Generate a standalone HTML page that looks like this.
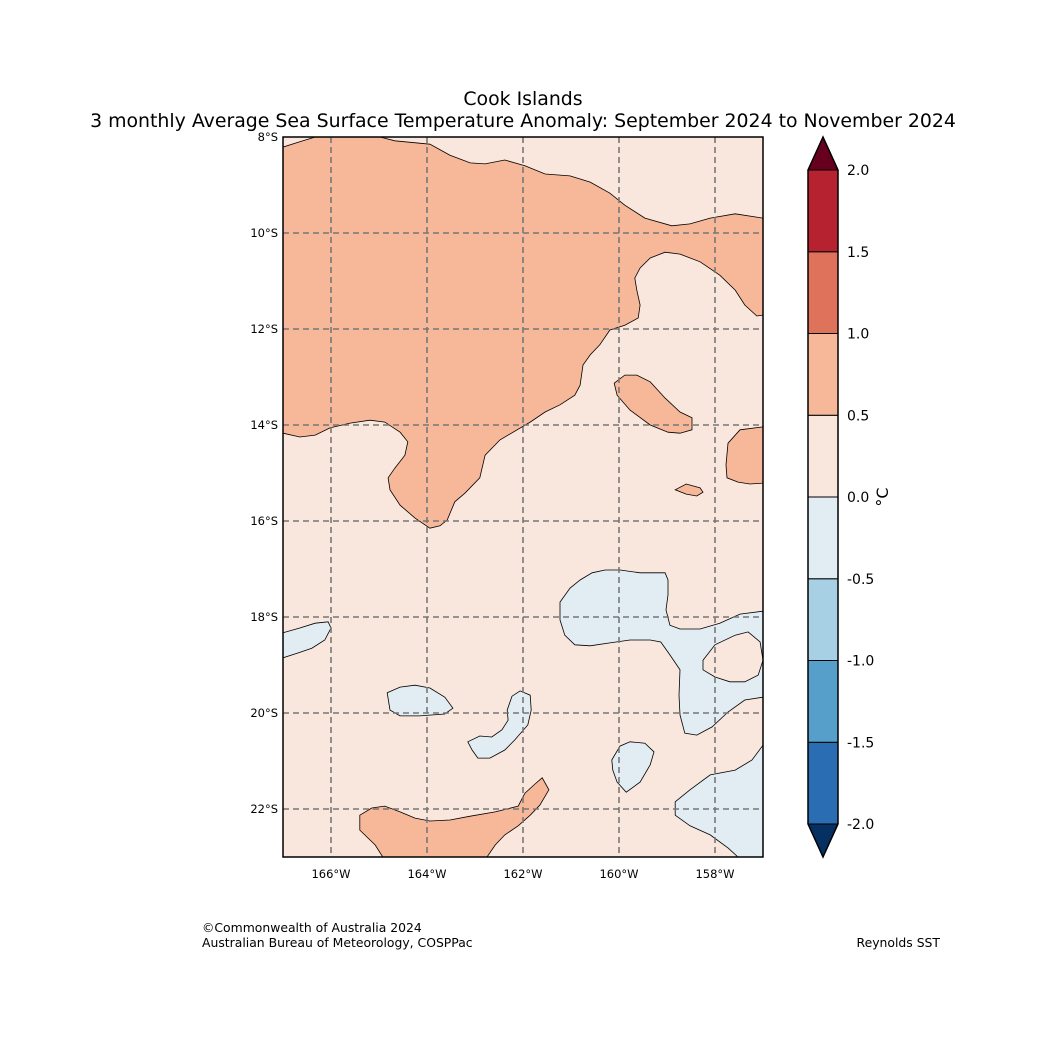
<!DOCTYPE html>
<html><head><meta charset="utf-8"><style>
html,body{margin:0;padding:0;background:#fff}
svg text{font-family:"DejaVu Sans","Liberation Sans",sans-serif}
</style></head><body>
<svg id="c" width="1046" height="1052" xmlns="http://www.w3.org/2000/svg">
<text x="523" y="105" text-anchor="middle" font-size="18.9">Cook Islands</text>
<text x="523" y="127" text-anchor="middle" font-size="18.9">3 monthly Average Sea Surface Temperature Anomaly: September 2024 to November 2024</text>
<defs><clipPath id="mapclip"><rect x="283" y="137" width="480" height="720"/></clipPath></defs>
<g id="map" clip-path="url(#mapclip)"></g>
<g id="grid"></g>
<rect x="283" y="137" width="480" height="720" fill="none" stroke="#000" stroke-width="1.5"/>
<g id="ticks"></g>
<g id="cbar"></g>
<text transform="translate(888,497) rotate(-90)" text-anchor="middle" font-size="16">°C</text>
<text x="202" y="932" font-size="12.4">©Commonwealth of Australia 2024</text>
<text x="202" y="947" font-size="12.4">Australian Bureau of Meteorology, COSPPac</text>
<text x="940" y="947" font-size="12.4" text-anchor="end">Reynolds SST</text>
</svg>
<script>
const lonMin=-167, lonMax=-157, latMax=-8, latMin=-23;
const lonTicks=[-166,-164,-162,-160,-158];
const latTicks=[-8,-10,-12,-14,-16,-18,-20,-22];
const cbLevels=[-2,-1.5,-1,-0.5,0,0.5,1,1.5,2];
const cbColors=["#2a6db2","#569fcb","#a7d0e4","#e1ecf3","#f9e6dc","#f7b799","#de725b","#b72230"];
const cbUnder="#053061", cbOver="#67001f";
const bgColor="#f9e6dc";
const orangeMain=[[-167,-8.21],[-166.65,-8.10],[-166.33,-8],[-164.98,-8],[-164.67,-8.08],[-163.94,-8.15],[-163.52,-8.38],[-163.10,-8.54],[-162.79,-8.56],[-162.38,-8.48],[-161.96,-8.60],[-161.54,-8.77],[-161.02,-8.81],[-160.60,-8.94],[-160.19,-9.17],[-159.88,-9.42],[-159.46,-9.69],[-158.90,-9.85],[-158.52,-9.81],[-158.10,-9.69],[-157.58,-9.60],[-157,-9.69],[-157,-11.71],[-157.13,-11.73],[-157.38,-11.50],[-157.58,-11.19],[-157.90,-10.88],[-158.31,-10.60],[-158.73,-10.44],[-159.04,-10.40],[-159.35,-10.52],[-159.56,-10.73],[-159.67,-10.94],[-159.63,-11.19],[-159.56,-11.50],[-159.60,-11.77],[-159.88,-11.92],[-160.19,-12.02],[-160.40,-12.33],[-160.60,-12.54],[-160.75,-12.75],[-160.81,-13.17],[-160.92,-13.38],[-161.23,-13.58],[-161.54,-13.73],[-161.85,-13.94],[-162.48,-14.31],[-162.79,-14.63],[-162.90,-15.10],[-163.21,-15.42],[-163.42,-15.60],[-163.58,-15.98],[-163.73,-16.10],[-163.94,-16.15],[-164.25,-15.94],[-164.56,-15.67],[-164.77,-15.35],[-164.81,-15.10],[-164.67,-14.90],[-164.46,-14.63],[-164.40,-14.35],[-164.56,-14.15],[-164.88,-13.94],[-165.19,-13.90],[-165.60,-13.96],[-166.02,-14.06],[-166.33,-14.21],[-166.65,-14.25],[-167,-14.17]];
const orangeIsland=[[-160.10,-13.13],[-159.88,-12.96],[-159.63,-12.96],[-159.35,-13.10],[-159.04,-13.44],[-158.73,-13.73],[-158.48,-13.85],[-158.48,-14.10],[-158.73,-14.17],[-158.98,-14.15],[-159.35,-14.0],[-159.77,-13.69],[-160.04,-13.38]];
const orangeRight=[[-157,-14.04],[-157.48,-14.10],[-157.73,-14.38],[-157.77,-14.83],[-157.75,-15.10],[-157.52,-15.19],[-157.27,-15.23],[-157,-15.21]];
const orangeSmall=[[-158.83,-15.35],[-158.60,-15.23],[-158.31,-15.31],[-158.25,-15.40],[-158.38,-15.48],[-158.60,-15.44]];
const orangeBottom=[[-165.40,-22.13],[-165.15,-21.98],[-164.88,-21.94],[-164.56,-22.06],[-164.25,-22.19],[-163.94,-22.25],[-163.52,-22.23],[-163.10,-22.15],[-162.58,-22.06],[-162.10,-21.94],[-161.96,-21.67],[-161.75,-21.48],[-161.60,-21.35],[-161.46,-21.60],[-161.65,-21.92],[-161.85,-22.13],[-162.10,-22.35],[-162.38,-22.54],[-162.58,-22.75],[-162.75,-23],[-164.92,-23],[-165.08,-22.75],[-165.40,-22.44]];
const blueLeft=[[-167,-18.33],[-166.65,-18.23],[-166.33,-18.13],[-166.06,-18.10],[-166,-18.23],[-166.13,-18.48],[-166.40,-18.65],[-166.69,-18.75],[-167,-18.85]];
const blueBig=[[-161.23,-17.69],[-161.02,-17.40],[-160.81,-17.23],[-160.56,-17.08],[-160.29,-17.02],[-159.98,-17.02],[-159.56,-17.08],[-159.04,-17.08],[-158.98,-17.23],[-158.98,-17.54],[-159.02,-17.85],[-158.94,-18.17],[-158.73,-18.25],[-158.31,-18.25],[-157.90,-18.13],[-157.48,-17.94],[-157,-17.88],[-157,-19.67],[-157.38,-19.73],[-157.73,-19.98],[-158.06,-20.29],[-158.38,-20.46],[-158.63,-20.42],[-158.73,-20.04],[-158.75,-19.63],[-158.73,-19.10],[-158.94,-18.79],[-159.13,-18.52],[-159.35,-18.48],[-159.77,-18.48],[-160.19,-18.54],[-160.60,-18.60],[-160.92,-18.58],[-161.13,-18.38],[-161.23,-18.06]];
const pinkHole=[[-158.25,-18.90],[-158.0,-18.58],[-157.58,-18.38],[-157.31,-18.31],[-157.06,-18.52],[-157,-18.90],[-157.10,-19.21],[-157.38,-19.35],[-157.69,-19.35],[-158.0,-19.25],[-158.25,-19.10]];
const blueA=[[-164.83,-19.58],[-164.56,-19.46],[-164.25,-19.42],[-163.94,-19.48],[-163.63,-19.67],[-163.46,-19.90],[-163.63,-20.02],[-164.15,-20.06],[-164.56,-20.06],[-164.77,-19.94]];
const blueB=[[-163.15,-20.60],[-162.90,-20.48],[-162.65,-20.50],[-162.44,-20.35],[-162.31,-20.15],[-162.33,-19.94],[-162.23,-19.65],[-162.06,-19.54],[-161.85,-19.63],[-161.83,-19.94],[-161.90,-20.25],[-162.17,-20.56],[-162.38,-20.77],[-162.69,-20.94],[-162.94,-20.94],[-163.06,-20.77]];
const blueC=[[-160.15,-20.98],[-159.98,-20.69],[-159.77,-20.60],[-159.46,-20.63],[-159.27,-20.81],[-159.35,-21.08],[-159.56,-21.44],[-159.85,-21.65],[-160.04,-21.44],[-160.13,-21.19]];
const blueD=[[-157,-20.67],[-157.23,-20.98],[-157.58,-21.19],[-158.10,-21.29],[-158.52,-21.60],[-158.83,-21.85],[-158.83,-22.13],[-158.52,-22.35],[-158.10,-22.54],[-157.73,-22.81],[-157.52,-23],[-157,-23]];

const X0=283,X1=763,Y0=137,Y1=857;
const xs=lon=>X0+(lon-lonMin)/(lonMax-lonMin)*(X1-X0);
const ys=lat=>Y0+(latMax-lat)/(latMax-latMin)*(Y1-Y0);
const NS="http://www.w3.org/2000/svg";
function mk(tag,attrs,parent){const e=document.createElementNS(NS,tag);for(const k in attrs)e.setAttribute(k,attrs[k]);parent.appendChild(e);return e;}
const map=document.getElementById('map');
const bg=mk('rect',{x:X0,y:Y0,width:X1-X0,height:Y1-Y0,fill:bgColor},map);


const regions=[["orange-main",orangeMain,cbColors[5]],["orange-island",orangeIsland,cbColors[5]],["orange-right",orangeRight,cbColors[5]],["orange-small",orangeSmall,cbColors[5]],["orange-bottom",orangeBottom,cbColors[5]],["blue-left",blueLeft,cbColors[3]],["blue-big",blueBig,cbColors[3]],["pink-hole",pinkHole,bgColor],["blue-a",blueA,cbColors[3]],["blue-b",blueB,cbColors[3]],["blue-c",blueC,cbColors[3]],["blue-d",blueD,cbColors[3]]];
regions.forEach(r=>{
  const p=mk('polygon',{points:r[1].map(q=>xs(q[0]).toFixed(1)+','+ys(q[1]).toFixed(1)).join(' '),fill:r[2],stroke:'#000','stroke-width':0.8},map);
  
  
});
const grid=document.getElementById('grid');
lonTicks.forEach(l=>{const e=mk('line',{x1:xs(l),x2:xs(l),y1:Y0,y2:Y1,stroke:'#777','stroke-width':1.6,'stroke-dasharray':'6,4'},grid);
  
  });
latTicks.slice(1).forEach(l=>{const e=mk('line',{x1:X0,x2:X1,y1:ys(l),y2:ys(l),stroke:'#777','stroke-width':1.6,'stroke-dasharray':'6,4'},grid);
  
  });
const ticks=document.getElementById('ticks');
lonTicks.forEach(l=>{const t=mk('text',{x:xs(l),y:Y1+21,'text-anchor':'middle','font-size':11.5},ticks);t.textContent=Math.abs(l)+'°W';
  
  });
latTicks.forEach(l=>{const t=mk('text',{x:X0-5,y:ys(l)+4,'text-anchor':'end','font-size':11.5},ticks);t.textContent=Math.abs(l)+'°S';
  
  });
const cb=document.getElementById('cbar');
const CX0=808,CX1=838,CT=170,CB=824;
const cy=v=>CB-(v-cbLevels[0])/(cbLevels[cbLevels.length-1]-cbLevels[0])*(CB-CT);
for(let i=0;i<cbColors.length;i++){
  const r=mk('rect',{x:CX0,y:cy(cbLevels[i+1]),width:CX1-CX0,height:cy(cbLevels[i])-cy(cbLevels[i+1]),fill:cbColors[i],stroke:'#000','stroke-width':1},cb);
  
  
}
const tu=mk('polygon',{points:`${CX0},${CT} ${CX1},${CT} ${(CX0+CX1)/2},${CT-33}`,fill:cbOver,stroke:'#000','stroke-width':1},cb);


const td=mk('polygon',{points:`${CX0},${CB} ${CX1},${CB} ${(CX0+CX1)/2},${CB+33}`,fill:cbUnder,stroke:'#000','stroke-width':1},cb);


const fr=mk('polygon',{points:`${CX0},${CT} ${(CX0+CX1)/2},${CT-33} ${CX1},${CT} ${CX1},${CB} ${(CX0+CX1)/2},${CB+33} ${CX0},${CB}`,fill:'none',stroke:'#000','stroke-width':1.5},cb);


cbLevels.forEach(v=>{const t=mk('text',{x:847,y:cy(v)+5,'font-size':14},cb);t.textContent=v.toFixed(1);
  
  });
</script>
</body></html>
